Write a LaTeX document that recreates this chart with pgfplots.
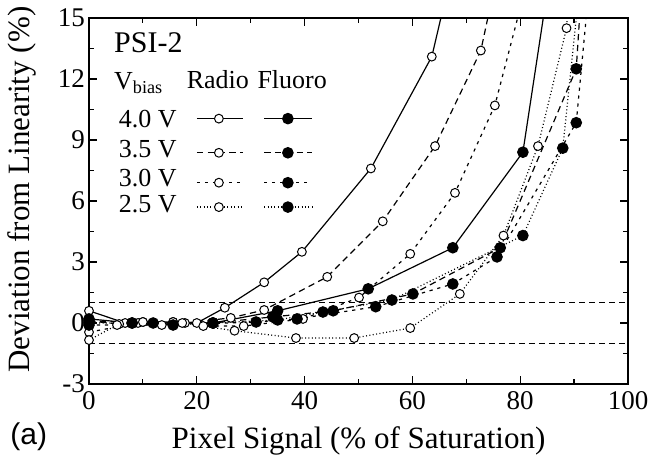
\documentclass[border=0pt]{standalone}
\usepackage{pgfplots}
\pgfplotsset{compat=1.18}
\usepackage{fontspec}
\setmainfont{Liberation Serif}
\newfontfamily\helv{Liberation Sans}
\begin{document}
\begin{tikzpicture}
\pgfplotsset{
  radio/.style={black, line width=0.6pt, mark=*, mark size=2.2pt, mark options={solid, fill=white, line width=0.5pt}},
  fluoro/.style={black, line width=0.6pt, mark=*, mark size=2.6pt, mark options={solid, fill=black}},
  sA/.style={solid},
  sB/.style={dash pattern=on 3.2pt off 2.2pt},
  sC/.style={dash pattern=on 1.6pt off 2.4pt},
  sD/.style={dash pattern=on 0.5pt off 1.2pt},
}
\begin{axis}[
  scale only axis, width=269.5pt, height=183pt,
  xmin=0, xmax=100, ymin=-3, ymax=15,
  xtick={0,20,...,100}, minor xtick={10,30,...,90},
  ytick={-3,0,...,15}, minor ytick={-1.5,1.5,...,13.5},
  tick align=inside, major tick length=4pt, minor tick length=2.5pt,
  tick style={black, line width=0.6pt},
  axis line style={line width=0.8pt},
  /pgf/number format/assume math mode=true,
  ticklabel style={font=\fontsize{13.5}{14}\selectfont},
  yticklabel style={xshift=1.5pt},
  xlabel={Pixel Signal (\% of Saturation)},
  ylabel={Deviation from Linearity (\%)},
  label style={font=\fontsize{15.5}{16}\selectfont},
  xlabel style={at={(axis description cs:0.5,-0.1749)}, anchor=base},
  ylabel style={at={(axis description cs:-0.1243,0.531)}, anchor=center},
  clip=true,
]
\coordinate (ll) at (rel axis cs:0,0);
\coordinate (ur) at (rel axis cs:1,1);
% reference band
\addplot[black, line width=0.6pt, dash pattern=on 3pt off 2pt] coordinates {(0,1) (100,1)};
\addplot[black, line width=0.6pt, dash pattern=on 3pt off 2pt] coordinates {(0,-1) (100,-1)};

% Radio (open)
\addplot[radio, sA] coordinates {(0,0.6) (6.7,0.0) (10,0.05) (15.6,0.05) (20,0.0) (25.2,0.75) (32.5,2.0) (39.5,3.5) (52.3,7.6) (63.6,13.1) (67.5,17.5)};
\addplot[radio, sB] coordinates {(0,0.1) (5.6,-0.05) (13.5,-0.1) (17.8,0.0) (26.3,0.25) (32.5,0.64) (44.2,2.27) (54.5,5.0) (64.2,8.7) (72.7,13.4) (76,17.5)};
\addplot[radio, sC] coordinates {(0,-0.45) (9.1,0.0) (15.6,0.05) (21.2,-0.15) (28.7,-0.15) (39.7,0.2) (50.1,1.25) (59.6,3.4) (67.9,6.4) (75.3,10.7) (81,16.5)};
\addplot[radio, sD] coordinates {(0,-0.84) (5.2,-0.1) (10,0.05) (17.3,0.0) (27,-0.38) (38.4,-0.74) (49.2,-0.74) (59.6,-0.25) (68.8,1.43) (76.9,4.3) (83.3,8.7) (88.6,14.5) (89.3,17)};

% Fluoro (filled)
\addplot[fluoro, sA] coordinates {(0,0.2) (8,0.0) (23,0.0) (35,0.6) (51.8,1.68) (67.5,3.7) (80.5,8.4) (86,18)};
\addplot[fluoro, sB] coordinates {(0,0.1) (11.9,0.0) (23,0.0) (34.1,0.3) (45.3,0.6) (60.1,1.43) (76.3,3.7) (90.4,12.5) (91.5,17)};
\addplot[fluoro, sC] coordinates {(0,-0.1) (15.6,-0.1) (31,0.05) (38.6,0.2) (53.2,0.8) (67.5,1.92) (75.7,3.25) (90.4,9.85) (92.6,16)};
\addplot[fluoro, sD] coordinates {(0,0.0) (8,0.0) (23,0.0) (35,0.15) (43.4,0.54) (56.2,1.13) (80.5,4.3) (87.9,8.6) (90.8,16)};

% legend samples
\addplot[radio, sA, mark indices={2}] coordinates {(20.0,10.05) (24.1,10.05) (28.6,10.05)};
\addplot[radio, sB, mark indices={2}] coordinates {(20.0,8.37) (24.1,8.37) (28.6,8.37)};
\addplot[radio, sC, mark indices={2}] coordinates {(20.0,6.9) (24.1,6.9) (28.6,6.9)};
\addplot[radio, sD, mark indices={2}] coordinates {(20.0,5.7) (24.1,5.7) (28.6,5.7)};
\addplot[fluoro, sA, mark indices={2}] coordinates {(32.5,10.05) (36.9,10.05) (41.4,10.05)};
\addplot[fluoro, sB, mark indices={2}] coordinates {(32.5,8.37) (36.9,8.37) (41.4,8.37)};
\addplot[fluoro, sC, mark indices={2}] coordinates {(32.5,6.9) (36.9,6.9) (41.4,6.9)};
\addplot[fluoro, sD, mark indices={2}] coordinates {(32.5,5.7) (36.9,5.7) (41.4,5.7)};

\node[anchor=base west, font=\fontsize{15}{16}\selectfont, inner sep=0pt] at (axis cs:4.6,13.3) {PSI-2};
\node[anchor=base west, font=\fontsize{13}{14}\selectfont, inner sep=0pt] at (axis cs:4.6,11.5) {V$_{\mathrm{bias}}$};
\node[anchor=base, font=\fontsize{13}{14}\selectfont, inner sep=0pt] at (axis cs:23.9,11.55) {Radio};
\node[anchor=base, font=\fontsize{13}{14}\selectfont, inner sep=0pt] at (axis cs:37.7,11.55) {Fluoro};
\node[anchor=base, font=\fontsize{13}{14}\selectfont, inner sep=0pt] at (axis cs:10.9,9.6) {4.0 V};
\node[anchor=base, font=\fontsize{13}{14}\selectfont, inner sep=0pt] at (axis cs:10.9,8.13) {3.5 V};
\node[anchor=base, font=\fontsize{13}{14}\selectfont, inner sep=0pt] at (axis cs:10.9,6.7) {3.0 V};
\node[anchor=base, font=\fontsize{13}{14}\selectfont, inner sep=0pt] at (axis cs:10.9,5.42) {2.5 V};
\end{axis}
\node[anchor=base west, font=\helv\fontsize{15}{16}\selectfont, inner sep=0pt] at ([shift={(-39.5pt,-30.5pt)}]ll) {(a)};
\pgfresetboundingbox
\path ([shift={(-44.5pt,-40pt)}]ll) rectangle ([shift={(10.5pt,9pt)}]ur);
\end{tikzpicture}
\end{document}
